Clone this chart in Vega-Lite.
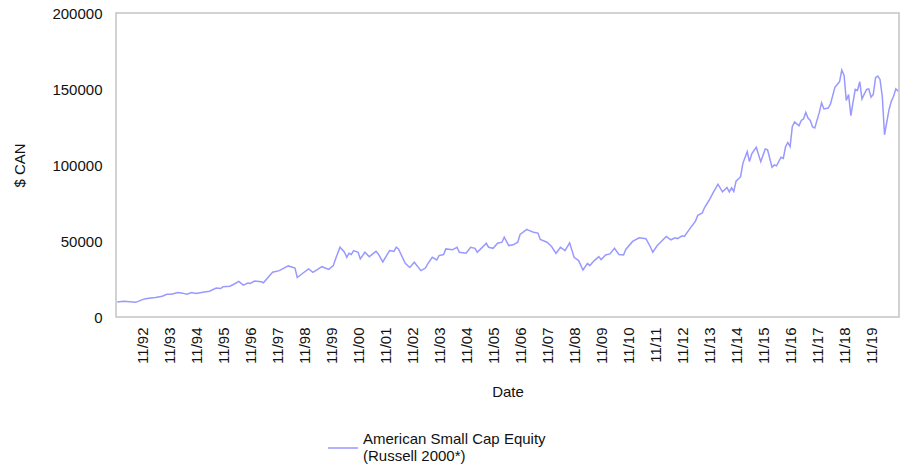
{
  "$schema": "https://vega.github.io/schema/vega-lite/v6.json",
  "autosize": "none",
  "width": 783,
  "height": 304,
  "padding": {"left": 116, "top": 13, "right": 3, "bottom": 151},
  "background": "white",
  "config": {
    "font": "Liberation Sans",
    "view": {"stroke": "#c4c4c4", "strokeWidth": 1.5},
    "axis": {"labelFont": "Liberation Sans", "titleFont": "Liberation Sans", "labelColor": "#111", "titleColor": "#111", "titleFontWeight": "normal", "labelFontSize": 15, "titleFontSize": 15}
  },
  "data": {"values": [
    {"date":"1991-12","value":9800},{"date":"1992-03","value":10400},{"date":"1992-08","value":9700},{"date":"1992-09","value":10100},{"date":"1992-12","value":11900},
    {"date":"1993-02","value":12400},{"date":"1993-05","value":12800},{"date":"1993-08","value":13700},{"date":"1993-10","value":15000},{"date":"1993-12","value":15000},
    {"date":"1994-03","value":16100},{"date":"1994-05","value":15700},{"date":"1994-07","value":15000},{"date":"1994-09","value":16100},{"date":"1994-11","value":15400},
    {"date":"1995-02","value":16300},{"date":"1995-05","value":17000},{"date":"1995-08","value":19000},{"date":"1995-10","value":18700},{"date":"1995-11","value":19900},
    {"date":"1996-02","value":20300},{"date":"1996-04","value":21700},{"date":"1996-06","value":23400},{"date":"1996-08","value":21000},{"date":"1996-10","value":22300},{"date":"1996-11","value":22100},
    {"date":"1997-01","value":23600},{"date":"1997-04","value":23200},{"date":"1997-05","value":22500},{"date":"1997-07","value":26000},{"date":"1997-09","value":29500},{"date":"1997-12","value":30500},
    {"date":"1998-04","value":33600},{"date":"1998-07","value":32200},{"date":"1998-08","value":26000},{"date":"1998-10","value":28300},
    {"date":"1999-01","value":31600},{"date":"1999-03","value":29400},{"date":"1999-07","value":33100},{"date":"1999-10","value":31300},{"date":"1999-12","value":33800},
    {"date":"2000-01","value":38200},{"date":"2000-03","value":45900},{"date":"2000-05","value":42600},{"date":"2000-06","value":39300},{"date":"2000-07","value":41900},{"date":"2000-08","value":41100},{"date":"2000-09","value":43700},{"date":"2000-11","value":42600},{"date":"2000-12","value":38200},
    {"date":"2001-02","value":42600},{"date":"2001-04","value":39700},{"date":"2001-07","value":43200},{"date":"2001-08","value":41500},{"date":"2001-10","value":36200},
    {"date":"2002-01","value":43700},{"date":"2002-03","value":43200},{"date":"2002-04","value":45900},{"date":"2002-05","value":44800},{"date":"2002-08","value":35300},{"date":"2002-10","value":32600},{"date":"2002-12","value":36000},
    {"date":"2003-03","value":30500},{"date":"2003-05","value":32200},{"date":"2003-06","value":34900},{"date":"2003-08","value":39300},{"date":"2003-10","value":37500},{"date":"2003-11","value":40400},
    {"date":"2004-01","value":41100},{"date":"2004-02","value":44800},{"date":"2004-05","value":44200},{"date":"2004-07","value":45900},{"date":"2004-08","value":42600},{"date":"2004-11","value":41900},
    {"date":"2005-01","value":45900},{"date":"2005-03","value":45200},{"date":"2005-04","value":42600},{"date":"2005-06","value":45500},{"date":"2005-08","value":48500},{"date":"2005-09","value":45900},{"date":"2005-11","value":45200},
    {"date":"2006-01","value":48500},{"date":"2006-03","value":49200},{"date":"2006-04","value":52500},{"date":"2006-06","value":47000},{"date":"2006-08","value":47500},{"date":"2006-10","value":49200},{"date":"2006-11","value":54300},
    {"date":"2007-02","value":57600},{"date":"2007-03","value":57000},{"date":"2007-05","value":55800},{"date":"2007-07","value":55200},{"date":"2007-08","value":51000},{"date":"2007-11","value":49200},
    {"date":"2008-01","value":46400},{"date":"2008-03","value":41900},{"date":"2008-05","value":45900},{"date":"2008-07","value":43700},{"date":"2008-09","value":48800},{"date":"2008-11","value":39300},
    {"date":"2009-01","value":37100},{"date":"2009-03","value":30900},{"date":"2009-05","value":35300},{"date":"2009-06","value":33800},{"date":"2009-08","value":37100},{"date":"2009-10","value":39700},{"date":"2009-11","value":37700},
    {"date":"2010-01","value":40800},{"date":"2010-03","value":41500},{"date":"2010-05","value":45200},{"date":"2010-07","value":41100},{"date":"2010-09","value":40800},{"date":"2010-10","value":44400},
    {"date":"2011-01","value":49700},{"date":"2011-04","value":52100},{"date":"2011-07","value":51500},{"date":"2011-09","value":45900},{"date":"2011-10","value":42600},{"date":"2011-12","value":47000},
    {"date":"2012-01","value":48500},{"date":"2012-03","value":51500},{"date":"2012-04","value":53000},{"date":"2012-06","value":50800},{"date":"2012-08","value":52100},{"date":"2012-09","value":51500},{"date":"2012-11","value":53400},{"date":"2012-12","value":53000},
    {"date":"2013-03","value":59100},{"date":"2013-05","value":63100},{"date":"2013-06","value":66900},{"date":"2013-08","value":68400},{"date":"2013-09","value":72000},{"date":"2013-11","value":76800},
    {"date":"2014-01","value":82300},{"date":"2014-03","value":87400},{"date":"2014-05","value":82300},{"date":"2014-07","value":85200},{"date":"2014-08","value":82300},{"date":"2014-09","value":85000},{"date":"2014-10","value":82600},{"date":"2014-11","value":89400},
    {"date":"2015-01","value":92300},{"date":"2015-02","value":101100},{"date":"2015-04","value":108800},{"date":"2015-05","value":102200},{"date":"2015-06","value":107300},{"date":"2015-08","value":111700},{"date":"2015-10","value":102200},{"date":"2015-12","value":110600},
    {"date":"2016-01","value":110000},{"date":"2016-03","value":98500},{"date":"2016-04","value":100000},{"date":"2016-05","value":99400},{"date":"2016-07","value":105100},{"date":"2016-08","value":104400},{"date":"2016-09","value":112100},{"date":"2016-10","value":114800},{"date":"2016-11","value":112100},{"date":"2016-12","value":125400},
    {"date":"2017-01","value":128300},{"date":"2017-03","value":125800},{"date":"2017-04","value":129300},{"date":"2017-05","value":130300},{"date":"2017-06","value":134600},{"date":"2017-07","value":130900},{"date":"2017-08","value":129300},{"date":"2017-09","value":125000},{"date":"2017-10","value":124300},{"date":"2017-12","value":134600},
    {"date":"2018-01","value":140900},{"date":"2018-02","value":136900},{"date":"2018-04","value":137500},{"date":"2018-05","value":140200},{"date":"2018-07","value":151200},{"date":"2018-09","value":154800},{"date":"2018-10","value":162500},{"date":"2018-11","value":158900},{"date":"2018-12","value":142400},
    {"date":"2019-01","value":146400},{"date":"2019-02","value":132500},{"date":"2019-03","value":140900},{"date":"2019-04","value":149700},{"date":"2019-05","value":149000},{"date":"2019-06","value":154800},{"date":"2019-07","value":143500},{"date":"2019-09","value":149700},{"date":"2019-10","value":150100},{"date":"2019-11","value":144600},{"date":"2019-12","value":146400},
    {"date":"2020-01","value":157400},{"date":"2020-02","value":158500},{"date":"2020-03","value":156300},{"date":"2020-04","value":145200},{"date":"2020-05","value":119900},{"date":"2020-07","value":136400},{"date":"2020-08","value":141900},{"date":"2020-09","value":145200},{"date":"2020-10","value":150100},{"date":"2020-11","value":148600}
  ]},
  "mark": {"type": "line", "strokeWidth": 1.5, "clip": true},
  "encoding": {
    "x": {
      "field": "date", "type": "temporal", "title": "Date",
      "scale": {"domain": [{"year": 1991, "month": 11, "date": 14}, {"year": 2020, "month": 11, "date": 13}]},
      "axis": {
        "values": [
          {"year":1992,"month":11,"date":1},{"year":1993,"month":11,"date":1},{"year":1994,"month":11,"date":1},{"year":1995,"month":11,"date":1},
          {"year":1996,"month":11,"date":1},{"year":1997,"month":11,"date":1},{"year":1998,"month":11,"date":1},{"year":1999,"month":11,"date":1},
          {"year":2000,"month":11,"date":1},{"year":2001,"month":11,"date":1},{"year":2002,"month":11,"date":1},{"year":2003,"month":11,"date":1},
          {"year":2004,"month":11,"date":1},{"year":2005,"month":11,"date":1},{"year":2006,"month":11,"date":1},{"year":2007,"month":11,"date":1},
          {"year":2008,"month":11,"date":1},{"year":2009,"month":11,"date":1},{"year":2010,"month":11,"date":1},{"year":2011,"month":11,"date":1},
          {"year":2012,"month":11,"date":1},{"year":2013,"month":11,"date":1},{"year":2014,"month":11,"date":1},{"year":2015,"month":11,"date":1},
          {"year":2016,"month":11,"date":1},{"year":2017,"month":11,"date":1},{"year":2018,"month":11,"date":1},{"year":2019,"month":11,"date":1}
        ],
        "format": "%m/%y", "labelAngle": -90, "labelPadding": 10, "labelOverlap": false, "labelFlush": false,
        "ticks": false, "domain": false, "grid": false, "titlePadding": 21
      }
    },
    "y": {
      "field": "value", "type": "quantitative", "title": "$ CAN",
      "scale": {"domain": [0, 200000], "nice": false},
      "axis": {"values": [0, 50000, 100000, 150000, 200000], "format": "d", "ticks": false, "domain": false, "grid": false, "labelPadding": 14, "titlePadding": 24}
    },
    "color": {
      "datum": "American Small Cap Equity",
      "scale": {"range": ["#9999ff"]},
      "legend": {
        "title": null, "orient": "none", "legendX": 211, "legendY": 419,
        "symbolType": "stroke", "symbolSize": 900, "symbolStrokeWidth": 1.5,
        "labelFontSize": 15, "labelColor": "#111", "labelFont": "Liberation Sans",
        "labelBaseline": "line-bottom",
        "labelExpr": "['American Small Cap Equity', '(Russell 2000*)']",
        "labelLimit": 400, "padding": 0
      }
    }
  }
}
